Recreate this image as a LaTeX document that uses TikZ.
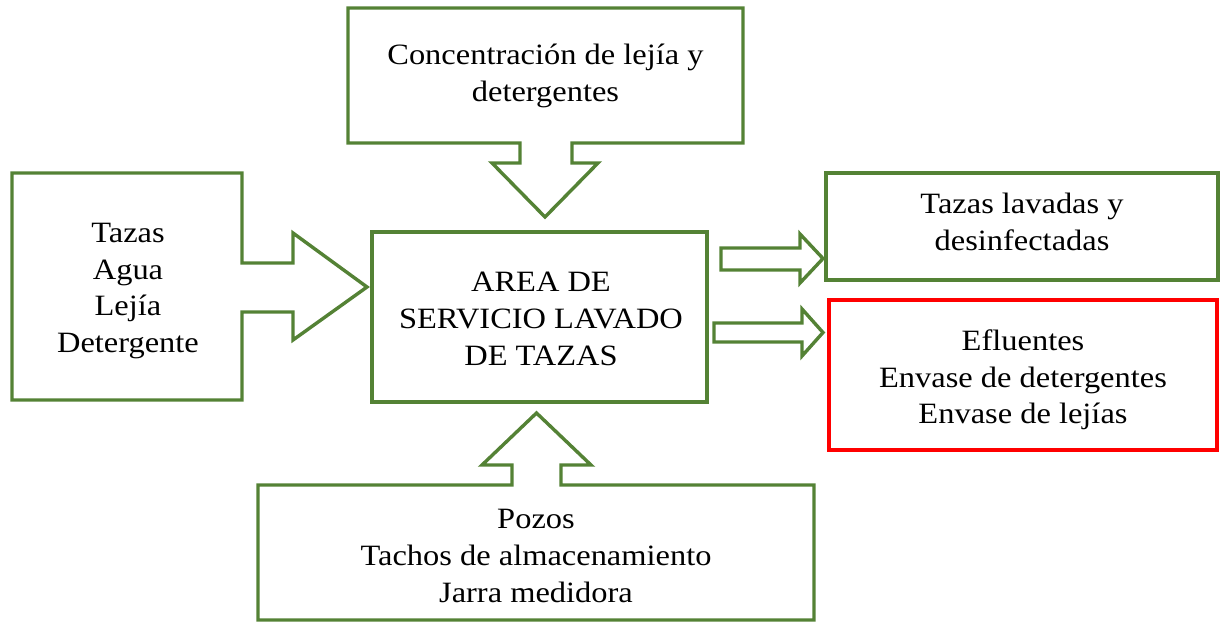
\documentclass[tikz,border=0pt]{standalone}
\usepackage{fontspec}
\setmainfont{Liberation Serif}[FakeStretch=1.1]
\definecolor{boxgreen}{RGB}{84,130,53}
\definecolor{boxred}{RGB}{255,0,0}
\tikzset{
  outline/.style={draw=boxgreen, line width=3.4pt, line join=miter, fill=white},
  redline/.style={draw=boxred, line width=3.4pt, fill=white},
  txt/.style={align=center, inner sep=0pt, font=\fontsize{29.5}{36.7}\selectfont}
}
\begin{document}
\begin{tikzpicture}[x=1pt,y=-1pt]
\useasboundingbox (0,0) rectangle (1220,622);
% top callout
\draw[outline] (348,8) -- (743,8) -- (743,143) -- (572,143) -- (572,163) -- (598,163)
  -- (545,217) -- (492,163) -- (520,163) -- (520,143) -- (348,143) -- cycle;
\node[txt] (conc) at (545.5,76) {Concentración de lejía y\\detergentes};
% left callout
\draw[outline] (12,173) -- (242,173) -- (242,263) -- (293,263) -- (293,233)
  -- (367,287) -- (293,340) -- (293,312) -- (242,312) -- (242,400) -- (12,400) -- cycle;
\node[txt] (inputs) at (128,291) {Tazas\\Agua\\Lejía\\Detergente};
% center box
\draw[outline] (372,232) rectangle (707,402);
\node[txt] (area) at (541,319) {AREA DE\\SERVICIO LAVADO\\DE TAZAS};
% bottom callout
\draw[outline] (258,485) -- (512,485) -- (512,465) -- (482,465) -- (536.5,413)
  -- (591,465) -- (561,465) -- (561,485) -- (814,485) -- (814,620) -- (258,620) -- cycle;
\node[txt] (equip) at (536,556) {Pozos\\Tachos de almacenamiento\\Jarra medidora};
% right arrows
\draw[outline] (721,248) -- (800,248) -- (800,234) -- (823,258.5) -- (800,283)
  -- (800,270) -- (721,270) -- cycle;
\draw[outline] (714,323) -- (802,323) -- (802,309) -- (823,332.5) -- (802,356)
  -- (802,342) -- (714,342) -- cycle;
% output boxes
\draw[outline] (826,173) rectangle (1218,280);
\node[txt] (clean) at (1022,222) {Tazas lavadas y\\desinfectadas};
\draw[redline] (829,300) rectangle (1217,450);
\node[txt] (waste) at (1023,380) {Efluentes\\Envase de detergentes\\Envase de lejías};
\end{tikzpicture}
\end{document}
